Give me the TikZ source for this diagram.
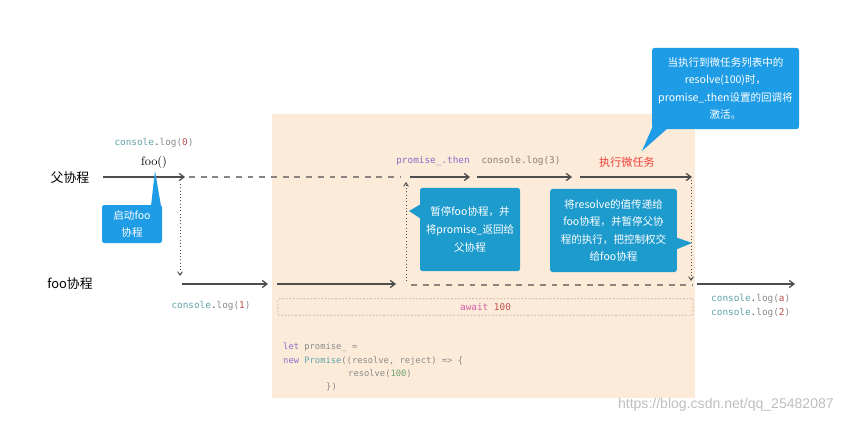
\documentclass[tikz,border=0pt]{standalone}
\usepackage{fontspec}
\setmonofont{DejaVu Sans Mono}
\newfontfamily\cjk{Noto Sans CJK SC}
\newfontfamily\wmfont{Liberation Sans}
\usetikzlibrary{arrows.meta}
\definecolor{peach}{HTML}{FDEBD9}
\definecolor{bluefill}{HTML}{1D9BCD}
\definecolor{bluetop}{HTML}{1E9CE6}
\definecolor{linegray}{HTML}{4D4D4D}
\definecolor{dashgray}{HTML}{8A8480}
\definecolor{awaitgray}{HTML}{B8ADA3}
\definecolor{consolec}{HTML}{5FA3AA}
\definecolor{numred}{HTML}{C0504D}
\definecolor{codegray}{HTML}{8A8A8A}
\definecolor{purp}{HTML}{8E6CC9}
\definecolor{pinkc}{HTML}{D35BA6}
\definecolor{greenc}{HTML}{6BA36B}
\definecolor{redtask}{HTML}{F0403A}
\definecolor{brownc}{HTML}{8C7F77}
\newcommand{\clogtxt}[1]{{\color{consolec}console}{\color{linegray}.}{\color{codegray}log(}{\color{numred}#1}{\color{codegray})}}
\begin{document}
\begin{tikzpicture}[x=0.03cm,y=-0.03cm,
  tline/.style={draw=linegray, line width=1.1pt, -{Straight Barb[length=4pt,width=6pt]}},
  dline/.style={draw=dashgray, line width=1pt, dash pattern=on 5pt off 5pt},
  vdot/.style={draw=linegray, line width=0.8pt, dotted, -{Straight Barb[length=3pt,width=4pt]}},
  codetxt/.style={font=\ttfamily\fontsize{8}{10}\selectfont, inner sep=0pt},
  blocktxt/.style={font=\ttfamily\fontsize{7.5}{9}\selectfont, inner sep=0pt, anchor=west},
  callout/.style={fill=bluefill, rounded corners=2pt, text=white, align=center, inner sep=0pt,
    font=\cjk\fontsize{9}{15}\selectfont},
  lanelabel/.style={font=\cjk\fontsize{11}{13}\selectfont, inner sep=0pt}
]
\useasboundingbox (0,0) rectangle (843,424);
\fill[white] (0,0) rectangle (843,424);
% peach background
\fill[peach] (272,114) rectangle (695,398);

% lane labels
\node[lanelabel] (plabel) at (70,178) {父协程};
\node[lanelabel] (flabel) at (70,284) {foo协程};

% coordinates of the father timeline
\coordinate (p0) at (103,177);
\coordinate (p1) at (185,177);
\coordinate (p2) at (189,177);
\coordinate (p3) at (400,177);
\coordinate (p4) at (410,177);
\coordinate (p5) at (470,177);
\coordinate (p6) at (477,177);
\coordinate (p7) at (572,177);
\coordinate (p8) at (580,177);
\coordinate (p9) at (692,177);
% foo timeline
\coordinate (f0) at (182,284);
\coordinate (f1) at (268,284);
\coordinate (f2) at (277,284);
\coordinate (f3) at (396,284);
\coordinate (f4) at (411,285);
\coordinate (f5) at (693,285);
\coordinate (f6) at (697,284);
\coordinate (f7) at (795,284);
% dotted verticals
\coordinate (v0) at (180,184);
\coordinate (v1) at (180,276);
\coordinate (v2) at (406,281);
\coordinate (v3) at (406,182);
\coordinate (v4) at (691,180);
\coordinate (v5) at (691,281);

\draw[tline] (p0) -- (p1);
\draw[dline] (p2) -- (p3);
\draw[tline] (p4) -- (p5);
\draw[tline] (p6) -- (p7);
\draw[tline] (p8) -- (p9);

\draw[tline] (f0) -- (f1);
\draw[tline] (f2) -- (f3);
\draw[dline] (f4) -- (f5);
\draw[tline] (f6) -- (f7);

\draw[vdot] (v0) -- (v1);
\draw[vdot] (v2) -- (v3);
\draw[vdot] (v4) -- (v5);

% labels above/below lines
\node[codetxt] (c0) at (154,143) {\clogtxt{0}};
\node[inner sep=0pt, font=\fontsize{10.5}{12}\selectfont] (foocall) at (154,162) {foo()};
\node[codetxt] (c1) at (211,306) {\clogtxt{1}};
\node[codetxt, text=purp] (pthen) at (433,161) {promise\_.then};
\node[codetxt, text=brownc] (c3) at (521,161) {console.log(3)};
\node[inner sep=0pt, font=\cjk\fontsize{9.5}{11}\selectfont, text=redtask] (task) at (627,162) {执行微任务};
\node[codetxt, anchor=west] (ca) at (711,299) {\clogtxt{a}};
\node[codetxt, anchor=west] (c2) at (711,313) {\clogtxt{2}};

% await box
\node[draw=awaitgray, line width=0.6pt, dash pattern=on 1.5pt off 1.5pt, rounded corners=1pt,
  minimum width=12.45cm, minimum height=0.5cm, inner sep=0pt,
  font=\ttfamily\fontsize{8}{10}\selectfont] (await) at (485.5,307)
  {{\color{pinkc}await} {\color{numred}100}};

% code block
\node[blocktxt] (l1) at (283,347) {{\color{purp}let} {\color{codegray}promise\_ =}};
\node[blocktxt] (l2) at (283,361) {{\color{purp}new} {\color{consolec}Promise}{\color{codegray}((resolve, reject) => \{}};
\node[blocktxt] (l3) at (348,374) {{\color{codegray}resolve(}{\color{greenc}100}{\color{codegray})}};
\node[blocktxt] (l4) at (326,387) {{\color{codegray}\})}};

% callouts
\node[callout, fill=bluetop, minimum width=1.8cm, minimum height=1.14cm] (startb) at (132,224) {启动foo\\协程};
\fill[bluetop] (151,206) -- (155,171) -- (161,206) -- cycle;

\node[callout, minimum width=3cm, minimum height=2.49cm] (box1) at (470,229.5)
  {暂停foo协程，并\\将promise\_返回给\\父协程};
\fill[bluefill] (421,204) -- (409,211) -- (421,219) -- cycle;

\node[callout, minimum width=3.8cm, minimum height=2.49cm] (box2) at (613.5,230.5)
  {将resolve的值传递给\\foo协程，并暂停父协\\程的执行，把控制权交\\给foo协程};
\fill[bluefill] (675,237) -- (692,243) -- (675,250) -- cycle;

\node[callout, fill=bluetop, minimum width=4.41cm, minimum height=2.43cm] (topbox) at (725.5,88.5)
  {当执行到微任务列表中的\\resolve(100)时，\\promise\_.then设置的回调将\\激活。};
\fill[bluetop] (652,128) -- (642,151) -- (668,128) -- cycle;

% watermark
\node[inner sep=0pt, anchor=east, text=black!25, font=\wmfont\fontsize{12}{14}\selectfont] (wm) at (834,405) {https://blog.csdn.net/qq\_25482087};
\end{tikzpicture}
\end{document}
